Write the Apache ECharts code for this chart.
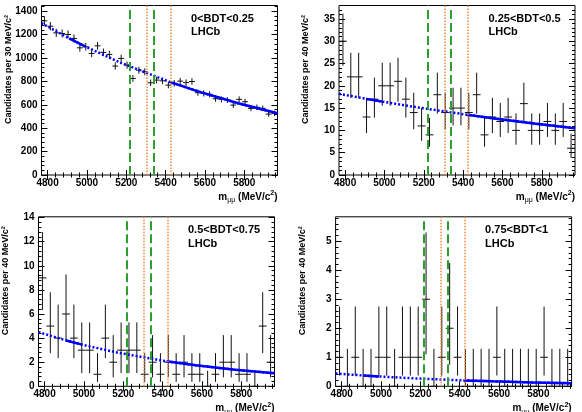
<!DOCTYPE html>
<html><head><meta charset="utf-8">
<script src="https://cdn.jsdelivr.net/npm/echarts@6/dist/echarts.min.js"></script>
<style>html,body{margin:0;padding:0;background:#fff}#c{width:582px;height:412px}</style>
</head><body><div id="c"></div>
<script>
// ---------------- data ----------------
const massRange = [4769, 5969];
const xTickLabels = [4800, 5000, 5200, 5400, 5600, 5800];
const b0Window = [5219, 5339];
const bsWindow = [5306, 5426];
const binLabels = ['0<BDT<0.25', '0.25<BDT<0.5', '0.5<BDT<0.75', '0.75<BDT<1'];
const binWidths = [30, 40, 40, 40];

const countsBDT1 = [1319, 1273, 1216, 1211, 1202, 1168, 1088, 1097, 1040, 1105,
                    1049, 1031, 932, 997, 940, 826, 897, 883, 789, 812,
                    806, 769, 784, 803, 790, 800, 704, 698, 690, 652,
                    647, 641, 598, 647, 627, 570, 579, 570, 521, 527];
const countsBDT2 = [30, 22, 22, 13, 17, 20, 20, 21, 17, 14, 11, 9, 18, 14, 15,
                    15, 14, 18, 9, 13, 12, 13, 10, 16, 10, 10, 12, 10, 12, 6];
const countsBDT3 = [9, 5, 4, 6, 4, 3, 3, 1, 4, 2, 3, 3, 3, 1, 2,
                    1, 2, 1, 2, 1, 1, 0, 1, 2, 2, 1, 1, 0, 5, 2];
const countsBDT4 = [1, 0, 1, 0, 0, 1, 1, 0, 1, 1, 1, 3, 0, 1, 2,
                    1, 0, 0, 0, 0, 1, 0, 0, 0, 0, 0, 1, 0, 0, 0];

const fitMass = [4769, 4910, 4990, 5169, 5420, 5569, 5769, 5969];
const fitBDT1 = [1299, 1169, 1101, 962, 797, 713, 614, 528];
const fitBDT2 = [18.2, 17.06, 16.45, 15.15, 13.51, 12.62, 11.51, 10.5];
const fitBDT3 = [4.5, 3.80, 3.46, 2.80, 2.07, 1.74, 1.37, 1.08];
const fitBDT4 = [0.44, 0.372, 0.338, 0.273, 0.203, 0.170, 0.134, 0.106];
const fitSolidRanges = [[1, 2], [4, 7]];

const yTicksBDT1 = [0, 200, 400, 600, 800, 1000, 1200, 1400];
const yTicksBDT2 = [0, 5, 10, 15, 20, 25, 30, 35];
const yTicksBDT3 = [0, 2, 4, 6, 8, 10, 12, 14];
const yTicksBDT4 = [0, 1, 2, 3, 4, 5];

// Feldman-Cousins 68.27% intervals for small counts
const fcIntervals = [[0, 1.29], [0.37, 2.75], [0.74, 4.25], [1.10, 5.30], [2.34, 6.78],
  [2.75, 7.81], [3.82, 9.28], [4.25, 10.30], [5.30, 11.32], [6.33, 12.79], [6.78, 13.81]];

// ---------------- layout ----------------
const W = 236, H = 169.5;
const panels = [
  {left: 41.5, top: 5.5, counts: countsBDT1, fit: fitBDT1, yTicks: yTicksBDT1, yMax: 1450, yMinor: 40, titleX: 8.3},
  {left: 339, top: 5.5, counts: countsBDT2, fit: fitBDT2, yTicks: yTicksBDT2, yMax: 38, yMinor: 1, titleX: 305.8},
  {left: 38.5, top: 216.8, counts: countsBDT3, fit: fitBDT3, yTicks: yTicksBDT3, yMax: 14.07, yMinor: 0.4, titleX: 5.3},
  {left: 335.6, top: 216.8, counts: countsBDT4, fit: fitBDT4, yTicks: yTicksBDT4, yMax: 5.84, yMinor: 0.2, titleX: 302.4}
];

const FONT = '"Liberation Sans", Arial, Helvetica, sans-serif';
const BLUE = '#0000ff', GREEN = '#2ca02c', ORANGE = '#f5883a';

function interval(n) {
  if (n < fcIntervals.length) return fcIntervals[n];
  if (n < 100) return [n - Math.sqrt(n), n + Math.sqrt(n) + 0.7];
  return [n - Math.sqrt(n), n + Math.sqrt(n)];
}

function renderErr(params, api) {
  const x = api.value(0), n = api.value(1), lo = api.value(2), hi = api.value(3), hw = api.value(4);
  const pL = api.coord([x - hw, n]), pR = api.coord([x + hw, n]);
  const pT = api.coord([x, hi]), pB = api.coord([x, lo]);
  const st = {stroke: '#111', lineWidth: 1};
  return {type: 'group', children: [
    {type: 'line', shape: {x1: pL[0], y1: pL[1], x2: pR[0], y2: pR[1]}, style: st},
    {type: 'line', shape: {x1: pT[0], y1: pT[1], x2: pB[0], y2: pB[1]}, style: st}
  ]};
}

const option = {animation: false, grid: [], xAxis: [], yAxis: [], series: [], graphic: []};
const xMinor = [];
for (let m = 4800; m <= massRange[1]; m += 40) xMinor.push(m);
const plain = v => String(v);

panels.forEach((p, i) => {
  option.grid.push({left: p.left, top: p.top, width: W, height: H, show: true,
    borderColor: '#000', borderWidth: 1, backgroundColor: 'transparent'});
  const lab = {show: true, fontFamily: FONT, fontWeight: 'bold', fontSize: 10, color: '#000', formatter: plain};
  const xa = (pos, major, labels) => ({gridIndex: i, type: 'value', min: massRange[0], max: massRange[1],
    position: pos, axisLine: {show: false}, splitLine: {show: false},
    axisTick: {show: true, inside: true, length: major ? 5 : 2.5, customValues: major ? xTickLabels : xMinor,
      lineStyle: {color: '#000', width: 1}},
    axisLabel: labels ? Object.assign({customValues: xTickLabels, margin: 3}, lab) : {show: false}});
  option.xAxis.push(xa('bottom', true, true), xa('bottom', false, false), xa('top', true, false), xa('top', false, false));
  const yMinorVals = [];
  for (let k = 0; k * p.yMinor <= p.yMax + 1e-9; k++) yMinorVals.push(Math.round(k * p.yMinor * 1000) / 1000);
  const ya = (pos, major, labels) => ({gridIndex: i, type: 'value', min: 0, max: p.yMax,
    position: pos, axisLine: {show: false}, splitLine: {show: false},
    axisTick: {show: true, inside: true, length: major ? 6 : 3, customValues: major ? p.yTicks : yMinorVals,
      lineStyle: {color: '#000', width: 1}},
    axisLabel: labels ? Object.assign({customValues: p.yTicks, margin: 4}, lab) : {show: false}});
  option.yAxis.push(ya('left', true, true), ya('left', false, false), ya('right', true, false), ya('right', false, false));

  const xi = 4 * i, yi = 4 * i;
  const fitData = fitMass.map((m, k) => [m, p.fit[k]]);
  option.series.push({type: 'line', xAxisIndex: xi, yAxisIndex: yi, data: fitData, showSymbol: false,
    lineStyle: {color: BLUE, width: 2.5, type: [2, 2]}, silent: true,
    markLine: {symbol: 'none', silent: true, label: {show: false},
      data: [
        {xAxis: b0Window[0], lineStyle: {color: GREEN, width: 2, type: [9, 4]}},
        {xAxis: b0Window[1], lineStyle: {color: GREEN, width: 2, type: [9, 4]}},
        {xAxis: bsWindow[0], lineStyle: {color: ORANGE, width: 1.5, type: [1.5, 1.5]}},
        {xAxis: bsWindow[1], lineStyle: {color: ORANGE, width: 1.5, type: [1.5, 1.5]}}
      ]}});
  fitSolidRanges.forEach(r => {
    option.series.push({type: 'line', xAxisIndex: xi, yAxisIndex: yi, data: fitData.slice(r[0], r[1] + 1),
      showSymbol: false, silent: true, lineStyle: {color: BLUE, width: 2.5, type: 'solid'}});
  });
  const bw = binWidths[i];
  const pts = p.counts.map((n, k) => {
    const c = massRange[0] + bw * (k + 0.5);
    const iv = interval(n);
    return [c, n, iv[0], iv[1], bw / 2];
  });
  option.series.push({type: 'custom', xAxisIndex: xi, yAxisIndex: yi, renderItem: renderErr, data: pts, silent: true,
    encode: {x: 0, y: 1}});

  // texts
  const ytitle = 'Candidates per ' + bw + ' MeV/c²';
  option.graphic.push({type: 'text', x: p.titleX, y: p.top + 9.5, rotation: Math.PI / 2, silent: true,
    style: {text: ytitle, font: 'bold 9px ' + FONT, fill: '#000', align: 'right', verticalAlign: 'middle'}});
  option.graphic.push({type: 'text', x: p.left + W, y: p.top + H + 22, silent: true,
    style: {text: '{m|m}{s|μμ}{m| (MeV/c}{p|2}{m|)}', align: 'right', verticalAlign: 'middle',
      rich: {
        m: {font: 'bold 10px ' + FONT, fill: '#000', lineHeight: 14},
        s: {font: '7px ' + FONT, fill: '#000', lineHeight: 7, verticalAlign: 'bottom'},
        p: {font: 'bold 7px ' + FONT, fill: '#000', lineHeight: 7, verticalAlign: 'top'}
      }}});
  option.graphic.push({type: 'text', x: p.left + 149.5, y: p.top + 13.5, silent: true,
    style: {text: binLabels[i], font: 'bold 11px ' + FONT, fill: '#000', align: 'left', verticalAlign: 'middle'}});
  option.graphic.push({type: 'text', x: p.left + 149.5, y: p.top + 26.8, silent: true,
    style: {text: 'LHCb', font: 'bold 11px ' + FONT, fill: '#000', align: 'left', verticalAlign: 'middle'}});
});

const chart = echarts.init(document.getElementById('c'), null, {renderer: 'canvas'});
chart.setOption(option);
</script>
</body></html>
